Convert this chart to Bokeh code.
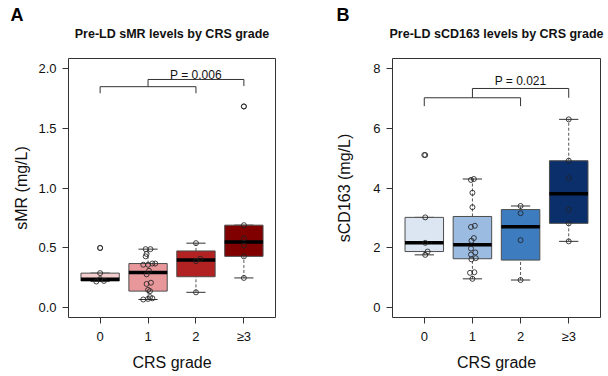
import math
from bokeh.plotting import figure
from bokeh.layouts import row
from bokeh.models import Range1d, FixedTicker, Label, NumeralTickFormatter, Title
from bokeh.embed import file_html
from bokeh.resources import INLINE

# ---------------- data ----------------
grades = ["0", "1", "2", "≥3"]

smr_g0 = [0.22, 0.225, 0.24, 0.29, 0.50]
smr_g1 = [0.07, 0.075, 0.08, 0.09, 0.14, 0.15, 0.20, 0.21, 0.28, 0.31,
          0.36, 0.36, 0.37, 0.37, 0.43, 0.45, 0.49, 0.49]
smr_g2 = [0.13, 0.39, 0.41, 0.54]
smr_g3 = [0.25, 0.43, 0.52, 0.58, 0.69, 1.68]

cd163_g0 = [1.77, 1.88, 2.17, 3.02, 5.10]
cd163_g1 = [0.97, 1.17, 1.19, 1.62, 1.66, 1.78, 1.85, 1.98, 2.24, 2.33,
            2.70, 2.74, 3.36, 3.84, 4.27, 4.30]
cd163_g2 = [0.93, 2.26, 3.16, 3.40]
cd163_g3 = [2.22, 2.82, 3.28, 4.33, 4.91, 6.29]

smr_p = "P = 0.006"
cd163_p = "P = 0.021"

# horizontal jitter of the overlaid points (category units), same order as values
smr_jit = [[-0.08, 0.08, 0.0, 0.0, 0.0],
           [-0.1, 0.0, 0.09, 0.04, 0.04, 0.0, -0.03, 0.06, -0.03, 0.02,
            -0.1, 0.0, 0.09, 0.15, -0.05, -0.03, -0.05, 0.05],
           [0.0, 0.0, 0.09, 0.0],
           [0.0, 0.0, 0.0, 0.0, 0.0, 0.0]]
cd163_jit = [[0.02, 0.07, 0.02, 0.02, 0.02],
             [0.0, -0.05, 0.04, -0.02, 0.07, -0.03, 0.06, -0.03, -0.02, 0.03,
              -0.03, 0.05, 0.0, 0.0, -0.03, 0.03],
             [0.0, 0.0, 0.0, 0.0],
             [0.0, 0.0, 0.0, 0.0, 0.0, 0.0]]

smr_colors = ["#F4CDCF", "#E8989B", "#B22222", "#800000"]
cd163_colors = ["#DCE6F2", "#9BBBE1", "#3E7CC0", "#0A2F6B"]

FONT = "Liberation Sans"


def fivenum(v):
    x = sorted(v)
    n = len(x)
    n4 = math.floor((n + 3) / 2) / 2
    d = [1, n4, (n + 1) / 2, n + 1 - n4, n]
    return [0.5 * (x[math.floor(k) - 1] + x[math.ceil(k) - 1]) for k in d]


def box_stats(v):
    f = fivenum(v)
    iqr = f[3] - f[1]
    lo_f, hi_f = f[1] - 1.5 * iqr, f[3] + 1.5 * iqr
    inside = [a for a in v if lo_f <= a <= hi_f]
    out = [a for a in v if a < lo_f or a > hi_f]
    return dict(q1=f[1], med=f[2], q3=f[3], lw=min(inside), uw=max(inside), out=out)


def panel(groups, jits, colors, ylim, yticks, yfmt, ylabel, title, letter,
          ptext, br, p_y, width, left_border, right_border, ylab_standoff, letter_offset):
    p = figure(width=width, height=376, output_backend="svg", toolbar_location=None,
               x_range=Range1d(0.34, 4.66),
               y_range=Range1d(ylim[0] - 0.04 * (ylim[1] - ylim[0]),
                               ylim[1] + 0.04 * (ylim[1] - ylim[0])),
               min_border_left=left_border, min_border_right=right_border,
               min_border_top=58, min_border_bottom=59)
    p.grid.visible = False
    p.outline_line_color = "#333333"
    p.outline_line_width = 1
    p.background_fill_color = "white"
    p.border_fill_color = "white"

    xs = [1, 2, 3, 4]
    st = [box_stats(g) for g in groups]
    q1 = [s["q1"] for s in st]
    q3 = [s["q3"] for s in st]
    med = [s["med"] for s in st]
    lw = [s["lw"] for s in st]
    uw = [s["uw"] for s in st]

    # whiskers (dashed)
    p.segment(xs, q3, xs, uw, line_color="#555555", line_width=1, line_dash="3 2")
    p.segment(xs, lw, xs, q1, line_color="#555555", line_width=1, line_dash="3 2")
    # staples
    p.segment([x - 0.2 for x in xs], uw, [x + 0.2 for x in xs], uw, line_color="#333333", line_width=1)
    p.segment([x - 0.2 for x in xs], lw, [x + 0.2 for x in xs], lw, line_color="#333333", line_width=1)
    # boxes
    p.vbar(x=xs, width=0.8, bottom=q1, top=q3, fill_color=colors,
           line_color="#4D4D4D", line_width=1)
    # medians
    p.segment([x - 0.4 for x in xs], med, [x + 0.4 for x in xs], med,
              line_color="black", line_width=3.5)
    # outliers
    ox, oy = [], []
    for x, s in zip(xs, st):
        for o in s["out"]:
            ox.append(x)
            oy.append(o)
    p.scatter(ox, oy, marker="circle", size=5, fill_color=None, line_color="#222222", line_width=0.8)
    # jittered points
    px, py = [], []
    for x, g, j in zip(xs, groups, jits):
        for v, dj in zip(g, j):
            px.append(x + dj)
            py.append(v)
    p.scatter(px, py, marker="circle", size=5, fill_color=None, line_color="#222222",
              line_width=1.0, line_alpha=0.85)

    # significance bracket
    lo, mid, hi, rend = br
    bx0 = [1, 1, 3, 2, 2, 4]
    by0 = [lo, mid, mid, mid, hi, hi]
    bx1 = [1, 3, 3, 2, 4, 4]
    by1 = [mid, mid, lo, hi, hi, rend]
    p.segment(bx0, by0, bx1, by1, line_color="#333333", line_width=1)

    p.add_layout(Label(x=3, y=p_y, text=ptext, text_align="center", text_baseline="alphabetic",
                       text_font=FONT, text_font_size="12px", text_color="#111111"))

    # panel letter as outermost title, chart title above a small spacer
    p.title = Title(text=letter, align="left", offset=letter_offset, text_font=FONT,
                    text_font_size="18px", text_font_style="bold", text_color="black",
                    standoff=0)
    p.add_layout(Title(text=" ", text_font_size="2px", standoff=14), "above")
    p.add_layout(Title(text=title, align="center", text_font=FONT, text_font_size="12.5px",
                       text_font_style="bold", text_color="#111111", standoff=0), "above")

    p.xaxis.ticker = FixedTicker(ticks=xs)
    p.xaxis.major_label_overrides = {x: g for x, g in zip(xs, grades)}
    p.yaxis.ticker = FixedTicker(ticks=yticks)
    p.yaxis.formatter = NumeralTickFormatter(format=yfmt)
    for ax in (p.xaxis[0], p.yaxis[0]):
        ax.axis_line_color = None
        ax.major_tick_out = 6
        ax.major_tick_in = 0
        ax.minor_tick_line_color = None
        ax.major_tick_line_color = "#333333"
        ax.major_label_text_font = FONT
        ax.major_label_text_font_size = "13px"
        ax.major_label_text_color = "#111111"
        ax.axis_label_text_font = FONT
        ax.axis_label_text_font_size = "16px"
        ax.axis_label_text_font_style = "normal"
        ax.axis_label_text_color = "#111111"
    p.xaxis.axis_label = "CRS grade"
    p.xaxis.major_label_standoff = 5
    p.xaxis.axis_label_standoff = 7
    p.yaxis.axis_label = ylabel
    p.yaxis.major_label_standoff = 6
    p.yaxis.axis_label_standoff = ylab_standoff
    p.yaxis.major_label_orientation = "horizontal"
    return p


pA = panel([smr_g0, smr_g1, smr_g2, smr_g3], smr_jit, smr_colors, (0, 2),
           [0, 0.5, 1.0, 1.5, 2.0], "0.0", "sMR (mg/L)",
           "Pre-LD sMR levels by CRS grade", "A", smr_p,
           (1.79, 1.845, 1.905, 1.85), 1.942,
           304, 68, 29, 5, -58)
pB = panel([cd163_g0, cd163_g1, cd163_g2, cd163_g3], cd163_jit, cd163_colors, (0, 8),
           [0, 2, 4, 6, 8], "0", "sCD163 (mg/L)",
           "Pre-LD sCD163 levels by CRS grade", "B", cd163_p,
           (6.73, 7.01, 7.32, 7.01), 7.567,
           304, 88, 8, 17, -56)

layout = row(pA, pB)
open("out.html", "w").write(file_html(layout, INLINE))
